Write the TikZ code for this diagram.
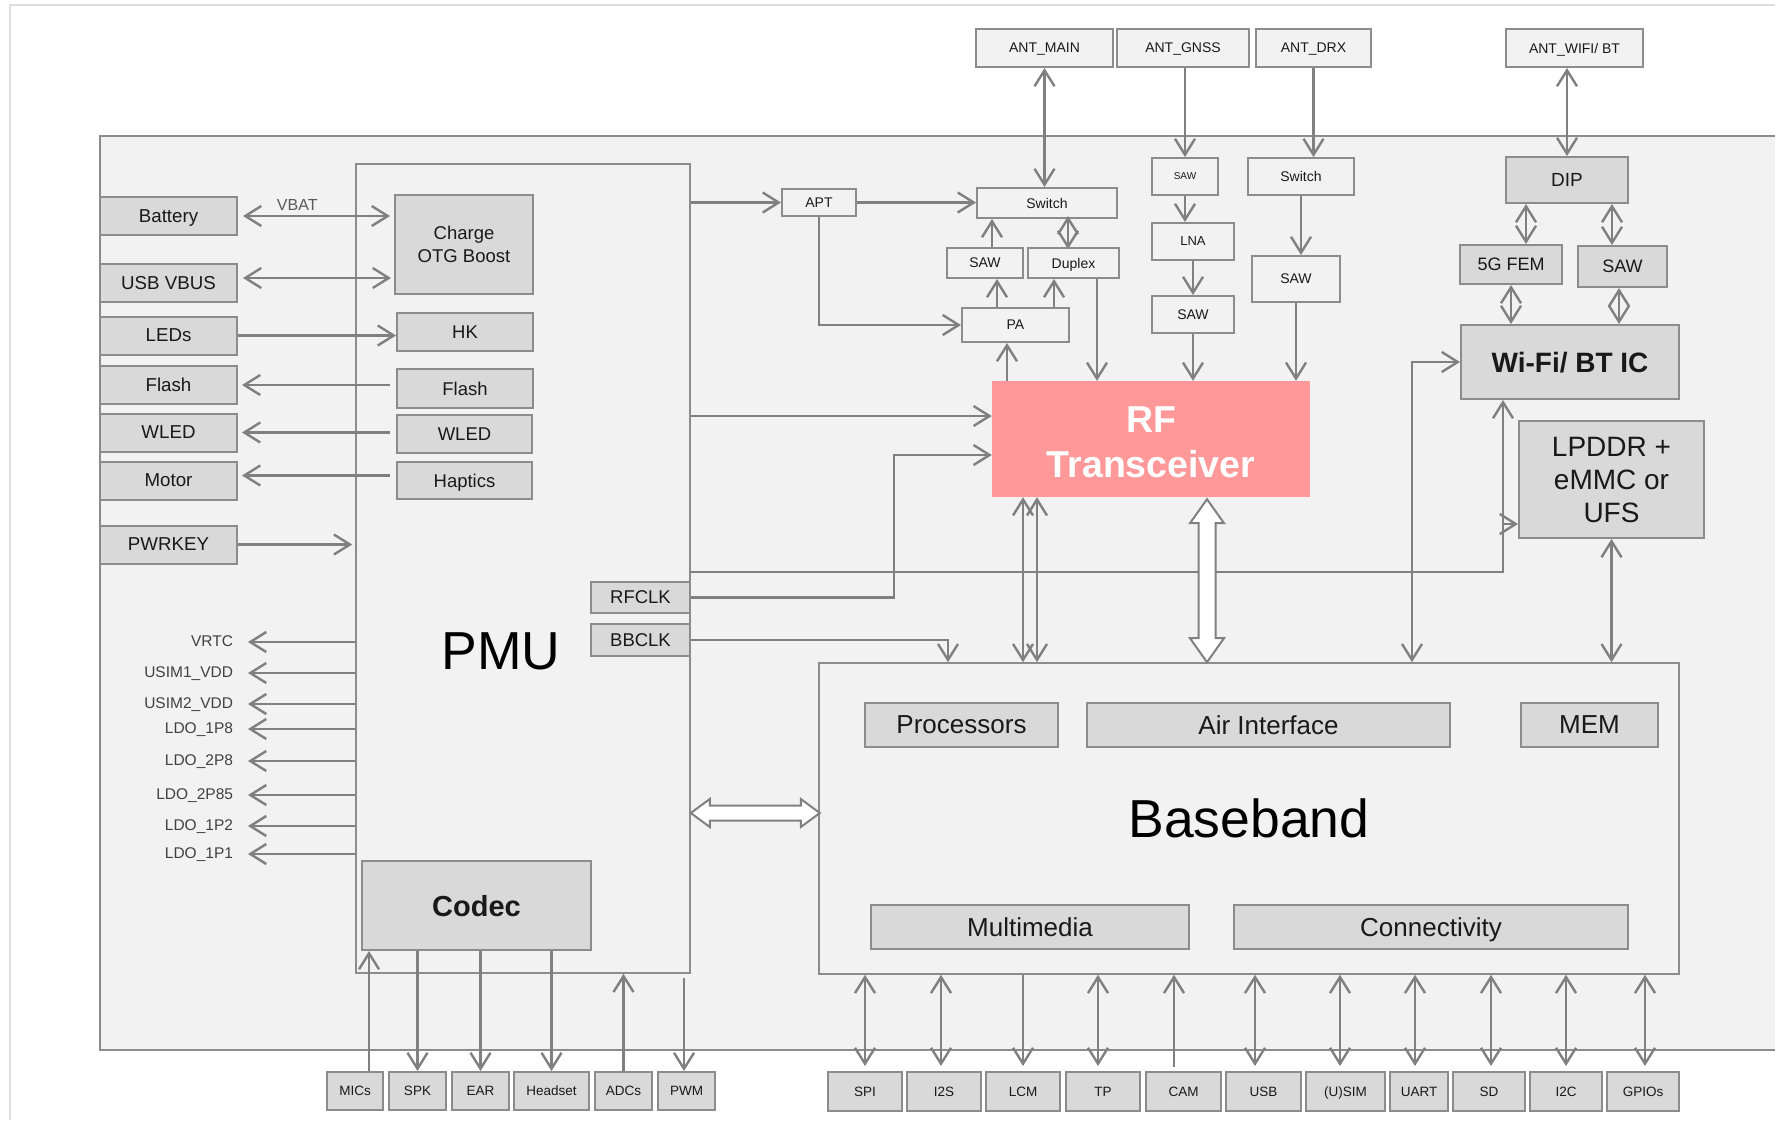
\documentclass[tikz,border=0pt]{standalone}
\usepackage{fontspec}
\setmainfont{Liberation Sans}
\usetikzlibrary{arrows.meta}
\definecolor{bggray}{HTML}{F2F2F2}
\definecolor{boxfill}{HTML}{D9D9D9}
\definecolor{boxline}{HTML}{8C8C8C}
\definecolor{wire}{HTML}{808080}
\definecolor{rfpink}{HTML}{FF9999}
\definecolor{edgegray}{HTML}{DDDDDD}
\definecolor{labgray}{HTML}{404040}
\definecolor{vbatgray}{HTML}{595959}
\tikzset{
  wsz/.style 2 args={minimum width=#1pt,minimum height=#2pt},
  oneline/.style={text depth=0pt},
  dbox/.style={draw=boxline,fill=boxfill,line width=2pt,inner sep=0pt,align=center,text=black!90},
  lbox/.style={dbox,oneline,fill=bggray,font=\fontsize{14}{17}\selectfont},
  chip/.style={draw=boxline,fill=bggray,line width=1.6pt,inner sep=0pt},
  lcol/.style={dbox,oneline,wsz={137}{38},font=\fontsize{18.7}{22}\selectfont},
  pbox/.style={dbox,oneline,font=\fontsize{18.5}{22}\selectfont},
  bbox/.style={dbox,oneline,minimum height=38pt,font=\fontsize{13.5}{16}\selectfont},
  ibox/.style={dbox,oneline,minimum height=44pt,font=\fontsize{26}{30}\selectfont},
  vlab/.style={inner sep=0pt,outer xsep=15pt,anchor=east,text=labgray,font=\fontsize{15.5}{18}\selectfont,text height=11pt,text depth=3pt},
  arr/.style={draw=wire,line width=2.4pt,-{Straight Barb[length=16pt,width=20pt]}},
  darr/.style={arr,{Straight Barb[length=16pt,width=20pt]}-{Straight Barb[length=16pt,width=20pt]}},
  bdarr/.style={darr,shorten <=5pt},
  blockarr/.style={draw=wire,fill=white,line width=2pt,line join=miter},
}
\begin{document}
\begin{tikzpicture}[x=1pt,y=-1pt]
\useasboundingbox (0,0) rectangle (1775,1120);
\fill[white] (0,0) rectangle (1775,1120);
\draw[edgegray,line width=2pt] (10,1120) -- (10,5) -- (1775,5);
\draw[boxline,fill=bggray,line width=2pt] (100,136) rectangle (1800,1050);

% PMU and its blocks
\node[chip,wsz={334}{809}] (pmu) at (523,568.5) {};
\node[font=\fontsize{53.5}{56}\selectfont] (pmulab) at (501,651) {PMU};
\node[dbox,wsz={138}{99},font=\fontsize{18.5}{22.5}\selectfont] (charge) at (464,244.5) {Charge\\OTG Boost};
\node[pbox,wsz={136}{38}] (hk) at (465,332) {HK};
\node[pbox,wsz={136}{39}] (flashdrv) at (465,388.5) {Flash};
\node[pbox,wsz={135}{38}] (wleddrv) at (464.5,434) {WLED};
\node[pbox,wsz={135}{37}] (haptics) at (464.5,480.5) {Haptics};
\node[pbox,wsz={99}{31}] (rfclk) at (640.5,597.5) {RFCLK};
\node[pbox,wsz={99}{32}] (bbclk) at (640.5,640) {BBCLK};
\node[dbox,oneline,wsz={229}{89},font=\bfseries\fontsize{29}{34}\selectfont] (codec) at (476.5,905.5) {Codec};

% left column
\node[lcol] (battery) at (168.5,216) {Battery};
\node[lcol] (usbvbus) at (168.5,283) {USB VBUS};
\node[lcol] (leds) at (168.5,335.5) {LEDs};
\node[lcol] (flash) at (168.5,385) {Flash};
\node[lcol] (wled) at (168.5,432.5) {WLED};
\node[lcol] (motor) at (168.5,480.5) {Motor};
\node[lcol] (pwrkey) at (168.5,544.5) {PWRKEY};

\node[vlab] (vrtc) at (248,642) {VRTC};
\node[vlab] (usimone) at (248,673) {USIM1\_VDD};
\node[vlab] (usimtwo) at (248,704) {USIM2\_VDD};
\node[vlab] (ldoa) at (248,729) {LDO\_1P8};
\node[vlab] (ldob) at (248,761) {LDO\_2P8};
\node[vlab] (ldoc) at (248,795) {LDO\_2P85};
\node[vlab] (ldod) at (248,826) {LDO\_1P2};
\node[vlab] (ldoe) at (248,854) {LDO\_1P1};

% bottom row, audio side
\node[bbox,minimum width=56pt] (mics) at (355,1091) {MICs};
\node[bbox,minimum width=57pt] (spk) at (417.5,1091) {SPK};
\node[bbox,minimum width=57pt] (ear) at (480.5,1091) {EAR};
\node[bbox,minimum width=75pt] (headset) at (551.5,1091) {Headset};
\node[bbox,minimum width=57pt] (adcs) at (623.5,1091) {ADCs};
\node[bbox,minimum width=57pt] (pwm) at (686.5,1091) {PWM};

% baseband
\node[chip,wsz={860}{311},font=\fontsize{53.5}{56}\selectfont] (bb) at (1249,818.5) {Baseband};
\node[ibox,minimum width=193pt] (proc) at (961.5,725) {Processors};
\node[ibox,minimum width=363pt] (air) at (1268.5,725) {Air Interface};
\node[ibox,minimum width=137pt] (mem) at (1589.5,725) {MEM};
\node[ibox,minimum width=318pt] (mm) at (1030,927) {Multimedia};
\node[ibox,minimum width=394pt] (conn) at (1431,927) {Connectivity};

\node[bbox,wsz={74}{39}] (spi) at (865,1091.5) {SPI};
\node[bbox,wsz={74}{39}] (i2s) at (944,1091.5) {I2S};
\node[bbox,wsz={74}{39}] (lcm) at (1023,1091.5) {LCM};
\node[bbox,wsz={74}{39}] (tp) at (1103,1091.5) {TP};
\node[bbox,wsz={75}{39}] (cam) at (1183.5,1091.5) {CAM};
\node[bbox,wsz={75}{39}] (usb) at (1263.5,1091.5) {USB};
\node[bbox,wsz={79}{39}] (usim) at (1345.5,1091.5) {(U)SIM};
\node[bbox,wsz={58}{39}] (uart) at (1419,1091.5) {UART};
\node[bbox,wsz={72}{39}] (sd) at (1489,1091.5) {SD};
\node[bbox,wsz={72}{39}] (i2c) at (1566,1091.5) {I2C};
\node[bbox,wsz={72}{39}] (gpios) at (1643,1091.5) {GPIOs};

% RF front end
\node[fill=rfpink,wsz={318}{116},inner sep=0pt,align=center,text=white,font=\bfseries\fontsize{37.5}{45}\selectfont] (rf) at (1151,439) {\rule{0pt}{33pt}RF\\Transceiver};
\node[lbox,wsz={137}{38}] (antmain) at (1044.5,48) {ANT\_MAIN};
\node[lbox,wsz={132}{38}] (antgnss) at (1183,48) {ANT\_GNSS};
\node[lbox,wsz={115}{38}] (antdrx) at (1313.5,48) {ANT\_DRX};
\node[lbox,wsz={137}{38}] (antwifi) at (1574.5,48) {ANT\_WIFI/ BT};
\node[lbox,wsz={74}{27}] (apt) at (819,202.5) {APT};
\node[lbox,wsz={140}{30}] (swmain) at (1047,203) {Switch};
\node[lbox,wsz={76}{30}] (sawm) at (985,263) {SAW};
\node[lbox,wsz={91}{30}] (duplex) at (1073.5,263) {Duplex};
\node[lbox,wsz={107}{34}] (pa) at (1015.5,325) {PA};
\node[lbox,wsz={66}{37},font=\fontsize{10}{12}\selectfont] (sawg) at (1185,176.5) {SAW};
\node[lbox,wsz={82}{37},font=\fontsize{13}{16}\selectfont] (lna) at (1193,241.5) {LNA};
\node[lbox,wsz={82}{37}] (sawgb) at (1193,314.5) {SAW};
\node[lbox,wsz={106}{37}] (swdrx) at (1301,176.5) {Switch};
\node[lbox,wsz={88}{46}] (sawd) at (1296,279) {SAW};

% wifi side
\node[dbox,oneline,wsz={122}{46},font=\fontsize{19}{23}\selectfont] (dip) at (1567,180) {DIP};
\node[dbox,oneline,wsz={102}{39},font=\fontsize{18}{22}\selectfont] (fem) at (1511,264.5) {5G FEM};
\node[dbox,oneline,wsz={89}{41},font=\fontsize{18}{22}\selectfont] (sawwf) at (1622.5,266.5) {SAW};
\node[dbox,oneline,wsz={218}{74},font=\bfseries\fontsize{28}{34}\selectfont] (wifi) at (1570,362) {Wi-Fi/ BT IC};
\node[dbox,wsz={185}{117},font=\fontsize{28}{33}\selectfont] (lpddr) at (1611.5,479.5) {LPDDR +\\eMMC or\\UFS};

% left connectors
\coordinate (usbv) at ([yshift=5pt]usbvbus.east);
\coordinate (motv) at ([yshift=5pt]motor.east);
\draw[darr,shorten <=5pt,shorten >=4pt] (battery.east) -- node[pos=0.38,above=1pt,font=\fontsize{16}{19}\selectfont,text=vbatgray] (vbat) {VBAT} (battery.east -| charge.west);
\draw[darr,shorten <=5pt,shorten >=3pt] (usbv) -- (usbv -| charge.west);
\draw[arr] (leds.east) -- (leds.east -| hk.west);
\draw[arr,shorten <=6pt,shorten >=4pt] (flash.east -| flashdrv.west) -- (flash.east);
\draw[arr,shorten <=6pt,shorten >=4pt] (wled.east -| wleddrv.west) -- (wled.east);
\draw[arr,shorten <=6pt,shorten >=4pt] (motv -| haptics.west) -- (motv);
\draw[arr,shorten >=3pt] (pwrkey.east) -- (pwrkey.east -| pmu.west);
\draw[arr] (pmu.west |- vrtc.east) -- (vrtc.east);
\draw[arr] (pmu.west |- usimone.east) -- (usimone.east);
\draw[arr] (pmu.west |- usimtwo.east) -- (usimtwo.east);
\draw[arr] (pmu.west |- ldoa.east) -- (ldoa.east);
\draw[arr] (pmu.west |- ldob.east) -- (ldob.east);
\draw[arr] (pmu.west |- ldoc.east) -- (ldoc.east);
\draw[arr] (pmu.west |- ldod.east) -- (ldod.east);
\draw[arr] (pmu.west |- ldoe.east) -- (ldoe.east);

% audio connectors
\coordinate (micup) at ([xshift=14pt]mics.north);
\coordinate (pwmin) at ([xshift=-2.5pt]pwm.north);
\draw[arr] (micup) -- (micup |- codec.south);
\draw[arr] (codec.south -| spk) -- (spk.north);
\draw[arr] (codec.south -| ear) -- (ear.north);
\draw[arr] (codec.south -| headset) -- (headset.north);
\draw[arr] (adcs.north) -- (adcs.north |- pmu.south);
\draw[arr,shorten <=4pt] (pwmin |- pmu.south) -- (pwmin);

% RF chain
\coordinate (rfina) at ([yshift=23pt]rf.west);
\coordinate (rfinb) at ([yshift=-16pt]rf.west);
\coordinate (pasaw) at ([xshift=12pt]sawm.south);
\coordinate (padup) at ([xshift=-19.5pt]duplex.south);
\coordinate (sawsw) at ([xshift=7pt]sawm.north);
\coordinate (dupsw) at ([xshift=-5.5pt]duplex.north);
\coordinate (duprf) at ([xshift=23.5pt]duplex.south);
\coordinate (rfpa) at ([xshift=-8.5pt]pa.south);
\draw[arr] (pmu.east |- apt.west) -- (apt.west);
\draw[arr] (apt.east) -- (apt.east -| swmain.west);
\draw[arr] (apt.south) |- (pa.west);
\draw[arr] (pasaw |- pa.north) -- (pasaw);
\draw[arr] (padup |- pa.north) -- (padup);
\draw[arr] (sawsw) -- (sawsw |- swmain.south);
\draw[darr,shorten <=-2pt,shorten >=-3pt] (dupsw) -- (dupsw |- swmain.south);
\draw[arr] (duprf) -- (duprf |- rf.north);
\draw[arr] (rfpa |- rf.north) -- (rfpa);
\draw[darr] (antmain.south) -- (antmain.south |- swmain.north);
\draw[arr] (sawg.north |- antgnss.south) -- (sawg.north);
\draw[arr] (sawg.south) -- (sawg.south |- lna.north);
\draw[arr] (lna.south) -- (sawgb.north);
\draw[arr] (sawgb.south) -- (sawgb.south |- rf.north);
\draw[arr] (antdrx.south) -- (antdrx.south |- swdrx.north);
\draw[arr] (swdrx.south) -- (swdrx.south |- sawd.north);
\draw[arr] (sawd.south) -- (sawd.south |- rf.north);
\draw[arr] (rfina -| pmu.east) -- (rfina);
\draw[arr] (rfclk.east) -- ++(203,0) |- (rfinb);

% wifi connectors
\coordinate (dipfem) at ([xshift=15pt]fem.north);
\coordinate (dipsaw) at ([xshift=-10.5pt]sawwf.north);
\coordinate (sawwifi) at ([xshift=-3.5pt]sawwf.south);
\draw[darr] (antwifi.south -| dip) -- (dip.north);
\draw[darr] (dipfem |- dip.south) -- (dipfem);
\draw[darr] (dipsaw |- dip.south) -- (dipsaw);
\draw[darr] (fem.south) -- (fem.south |- wifi.north);
\draw[darr] (sawwifi) -- (sawwifi |- wifi.north);
\coordinate (wfup) at ([xshift=-67pt]wifi.south);
\coordinate (lpin) at ([yshift=-44.5pt]lpddr.west);
\draw[arr] (pmu.east |- 0,572) -| (wfup);
\draw[arr] (wfup |- lpin) -- (lpin);
\coordinate (bbwf) at ([xshift=163pt]bb.north);
\draw[darr] (bbwf) |- (wifi.west);
\draw[darr] (lpddr.south) -- (lpddr.south |- bb.north);

% baseband links
\coordinate (bbin) at ([xshift=-301pt]bb.north);
\draw[arr] (bbclk.east) -| (bbin);
\coordinate (rfa) at ([xshift=-128pt]rf.south);
\coordinate (rfb) at ([xshift=-114pt]rf.south);
\draw[darr] (rfa) -- (rfa |- bb.north);
\draw[darr] (rfb) -- (rfb |- bb.north);
\draw[blockarr] ([xshift=56pt]rf.south) ++(0,2) -- ++(17,24) -- ++(-8.5,0) -- ++(0,115) -- ++(8.5,0) -- ++(-17,24) -- ++(-17,-24) -- ++(8.5,0) -- ++(0,-115) -- ++(-8.5,0) -- cycle;
\draw[blockarr] ([yshift=5.5pt]bb.west -| pmu.east) -- ++(19,-14) -- ++(0,6.5) -- ++(91,0) -- ++(0,-6.5) -- ++(19,14) -- ++(-19,14) -- ++(0,-6.5) -- ++(-91,0) -- ++(0,6.5) -- cycle;

% baseband bottom interfaces
\coordinate (i2sup) at ([xshift=-3pt]i2s.north);
\coordinate (tpup) at ([xshift=-5pt]tp.north);
\coordinate (camup) at ([xshift=-9.5pt]cam.north);
\coordinate (usbup) at ([xshift=-8.5pt]usb.north);
\coordinate (usimup) at ([xshift=-5.5pt]usim.north);
\coordinate (uartup) at ([xshift=-4pt]uart.north);
\coordinate (sdup) at ([xshift=2pt]sd.north);
\coordinate (gpioup) at ([xshift=2pt]gpios.north);
\draw[bdarr] (spi.north) -- (spi.north |- bb.south);
\draw[bdarr] (i2sup) -- (i2sup |- bb.south);
\draw[arr,shorten >=5pt] (lcm.north |- bb.south) -- (lcm.north);
\draw[bdarr] (tpup) -- (tpup |- bb.south);
\draw[arr,shorten <=4pt] (camup) -- (camup |- bb.south);
\draw[bdarr] (usbup) -- (usbup |- bb.south);
\draw[bdarr] (usimup) -- (usimup |- bb.south);
\draw[bdarr] (uartup) -- (uartup |- bb.south);
\draw[bdarr] (sdup) -- (sdup |- bb.south);
\draw[bdarr] (i2c.north) -- (i2c.north |- bb.south);
\draw[bdarr] (gpioup) -- (gpioup |- bb.south);
\end{tikzpicture}
\end{document}
